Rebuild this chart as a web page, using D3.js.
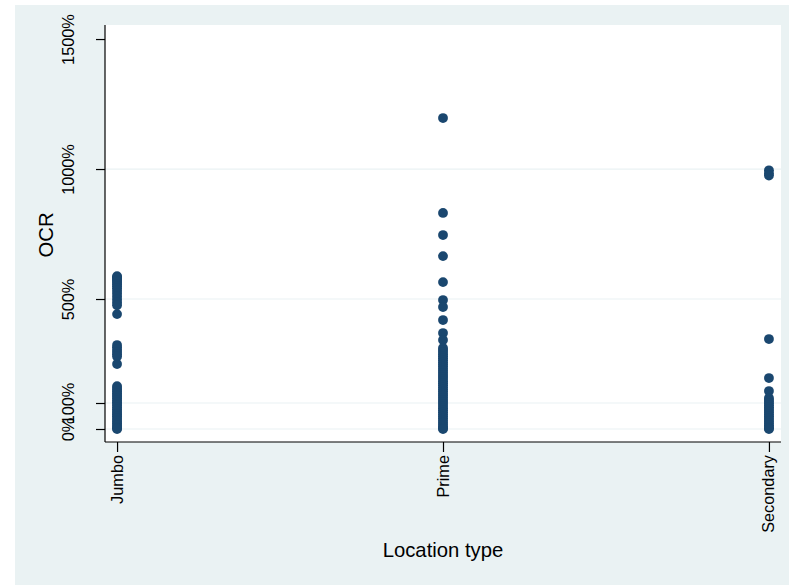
<!DOCTYPE html>
<html>
<head>
<meta charset="utf-8">
<script src="https://cdn.jsdelivr.net/npm/d3@7"></script>
<style>
  body { margin: 0; background: #ffffff; }
  text { font-family: Arial, "Liberation Sans", sans-serif; fill: #000; }
</style>
</head>
<body>
<div class="chart"></div>
<script>
// categories on the x axis
const categories = ["Jumbo", "Prime", "Secondary"];

// OCR values (%), one list per location type
const jumboValues = [588, 584, 579, 574, 569, 563, 556, 549, 541, 532, 521, 510, 498, 487, 476, 442,
    323, 314, 305, 296, 288, 279, 250,
    165, 158, 151, 144, 137, 131, 124, 117, 110, 103, 97, 90, 83, 76, 69, 62, 56, 49, 42, 35, 28, 21, 15, 8, 3, 0];
const primeValues = [1196, 831, 746, 665, 565, 496, 469, 419, 369, 342,
    312, 304, 296, 288, 280, 272, 264, 256, 248, 240, 232, 224, 216, 208, 200, 192, 184, 176, 168, 160,
    152, 144, 136, 128, 120, 112, 104, 96, 88, 80, 72, 64, 56, 48, 40, 32, 24, 16, 9, 3, 0];
const secondaryValues = [995, 983, 975, 346, 196, 146,
    119, 112, 105, 98, 91, 84, 77, 70, 63, 56, 49, 42, 35, 28, 21, 14, 8, 3, 0];

// y ticks
const yTicks = [0, 100, 500, 1000, 1500];
const gridTicks = [0, 100, 500, 1000];

const points = [];
[jumboValues, primeValues, secondaryValues].forEach((vals, i) => {
    vals.forEach(v => points.push({ cat: categories[i], ocr: v }));
});

const W = 789, H = 585;
const svg = d3.select(".chart").append("svg")
    .attr("width", W)
    .attr("height", H);

// outer graph region
svg.append("rect")
    .attr("x", 15).attr("y", 5)
    .attr("width", W - 15).attr("height", H - 5)
    .attr("fill", "#eaf2f3");

const plot = { left: 105, right: 781, top: 25, bottom: 442 };

// plot region
svg.append("rect")
    .attr("x", plot.left).attr("y", plot.top)
    .attr("width", plot.right - plot.left).attr("height", plot.bottom - plot.top)
    .attr("fill", "#ffffff");

const x = d3.scalePoint().domain(categories).range([plot.left, plot.right]).padding(0.037);
const y = d3.scaleLinear().domain([-50, 1554]).range([plot.bottom, plot.top]);

// gridlines
svg.append("g")
    .selectAll("line")
    .data(gridTicks)
    .join("line")
    .attr("x1", plot.left).attr("x2", plot.right)
    .attr("y1", d => y(d)).attr("y2", d => y(d))
    .attr("stroke", "#eaf2f3")
    .attr("stroke-width", 1.2);

// points
svg.append("g")
    .selectAll("circle")
    .data(points)
    .join("circle")
    .attr("cx", d => x(d.cat))
    .attr("cy", d => y(d.ocr))
    .attr("r", 4.9)
    .attr("fill", "#1a476f");

// y axis
const yAxis = d3.axisLeft(y).tickValues(yTicks).tickSize(9).tickFormat(d => d + "%");
const gy = svg.append("g")
    .attr("transform", "translate(" + plot.left + ",0)")
    .call(yAxis);
gy.select(".domain").attr("d", "M0," + plot.top + "V" + plot.bottom).attr("stroke", "#000").attr("stroke-width", 1.2);
gy.selectAll(".tick line").attr("stroke", "#000").attr("stroke-width", 1.2);
gy.selectAll(".tick text")
    .attr("x", null).attr("dy", null)
    .attr("transform", "translate(-31,0) rotate(-90)")
    .attr("text-anchor", "middle")
    .attr("font-size", "16.3px")
    .attr("font-family", "Arial, 'Liberation Sans', sans-serif");

// x axis
const xAxis = d3.axisBottom(x).tickSize(10);
const gx = svg.append("g")
    .attr("transform", "translate(0," + plot.bottom + ")")
    .call(xAxis);
gx.select(".domain").attr("d", "M" + plot.left + ",0H" + plot.right).attr("stroke", "#000").attr("stroke-width", 1.2);
gx.selectAll(".tick line").attr("stroke", "#000").attr("stroke-width", 1.2);
gx.selectAll(".tick text")
    .attr("y", null).attr("dy", null)
    .attr("transform", "translate(5,13) rotate(-90)")
    .attr("text-anchor", "end")
    .attr("font-size", "16.3px")
    .attr("font-family", "Arial, 'Liberation Sans', sans-serif");

// axis titles
svg.append("text")
    .attr("x", (plot.left + plot.right) / 2)
    .attr("y", 557)
    .attr("text-anchor", "middle")
    .attr("font-size", "20.3px")
    .text("Location type");

svg.append("text")
    .attr("transform", "translate(53,235) rotate(-90)")
    .attr("text-anchor", "middle")
    .attr("font-size", "20.3px")
    .text("OCR");
</script>
</body>
</html>
